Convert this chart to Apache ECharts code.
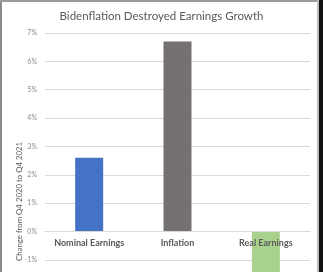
<!DOCTYPE html>
<html><head><meta charset="utf-8">
<script src="https://cdn.jsdelivr.net/npm/echarts@6/dist/echarts.min.js"></script>
<style>html,body{margin:0;padding:0;background:#fff;overflow:hidden}#c{width:323px;height:345px}</style>
</head><body><div id="c"></div>
<script>
const categories = ["Nominal Earnings", "Inflation", "Real Earnings"];
const values = [2.6, 6.7, -3.8];
const barColors = ["#4472C4", "#767171", "#A9D18E"];
const yTicks = { min: -4, max: 7, interval: 1 };
const titleText = "Bidenflation Destroyed Earnings Growth";
const yAxisName = "Change from Q4 2020 to Q4 2021";

const chart = echarts.init(document.getElementById('c'), null, {renderer: 'canvas'});
chart.setOption({
  animation: false,
  backgroundColor: '#fff',
  title: {
    text: titleText, left: 'center', top: 5,
    textStyle: {fontFamily: 'Lato', fontSize: 11.5, fontWeight: 'normal', color: '#595959'}
  },
  grid: {left: 45, right: 13, top: 33, bottom: 0, outerBoundsMode: 'none', containLabel: false},
  xAxis: {
    type: 'category', data: categories, z: 5,
    axisLine: {show: true, onZero: true, lineStyle: {color: '#d9d9d9'}},
    axisTick: {show: false},
    axisLabel: {interval: 0, hideOverlap: false, fontFamily: 'Lato', fontSize: 9, fontWeight: 'bold', color: '#595959', margin: -106}
  },
  yAxis: {
    type: 'value', min: yTicks.min, max: yTicks.max, interval: yTicks.interval,
    axisLine: {show: false}, axisTick: {show: false},
    splitLine: {lineStyle: {color: '#d9d9d9'}},
    axisLabel: {formatter: v => v + '%', fontFamily: 'Lato', fontSize: 7, color: '#8c8c8c', margin: 8}
  },
  graphic: [
    {type: 'text', rotation: Math.PI / 2, left: 15, top: 142,
     style: {text: yAxisName, fontFamily: 'Lato', fontSize: 7.8, fill: '#595959'}, z: 10},
    {type: 'rect', shape: {x: 0, y: 0, width: 2, height: 345}, style: {fill: '#8a8a8a'}, z: 20},
    {type: 'rect', shape: {x: 0, y: 0, width: 323, height: 2}, style: {fill: '#9a9a9a'}, z: 20},
    {type: 'rect', shape: {x: 317, y: 0, width: 2, height: 345}, style: {fill: '#bdbdbd'}, z: 20},
    {type: 'rect', shape: {x: 319, y: 0, width: 4, height: 345}, style: {fill: '#111'}, z: 20}
  ],
  series: [{
    type: 'bar', barWidth: 28,
    data: values.map((v, i) => ({value: v, itemStyle: {color: barColors[i]}}))
  }]
});
</script></body></html>
